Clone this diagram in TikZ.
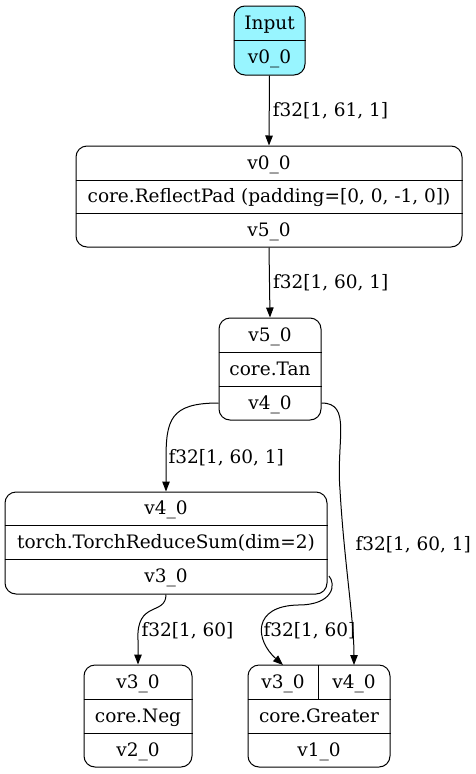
\documentclass[tikz,border=0pt]{standalone}
\usepackage{fontspec}
\setmainfont{DejaVu Serif}
\usetikzlibrary{arrows.meta}
\definecolor{inputcyan}{RGB}{152,245,255}
\tikzset{
  rec/.style={draw, rounded corners=11pt, inner sep=0pt},
  lbl/.style={inner sep=0pt, text height=15pt, text depth=3pt, font=\fontsize{18.5}{21}\selectfont},
  elbl/.style={lbl, anchor=west},
  arr/.style={-{Triangle[length=10pt,width=7.5pt]}}
}
\begin{document}
\begin{tikzpicture}[x=1pt,y=-1pt,line width=1pt]
    \useasboundingbox (0,0) rectangle (476,774);

    % input
    \node[rec, fill=inputcyan, minimum width=71pt, minimum height=69pt] (inp) at (269.5,40.5) {};
    \draw (inp.west |- 0,40) -- (inp.east |- 0,40);
    \node[lbl] (inpA) at (269.5,23) {Input};
    \node[lbl] (inpB) at (269.5,57.5) {v0\_0};

    % reflect pad
    \node[rec, minimum width=386pt, minimum height=101pt] (pad) at (269,196.5) {};
    \draw (pad.west |- 0,180) -- (pad.east |- 0,180);
    \draw (pad.west |- 0,213) -- (pad.east |- 0,213);
    \node[lbl] (padA) at (269,163) {v0\_0};
    \node[lbl] (padB) at (269,196.5) {core.ReflectPad (padding=[0, 0, -1, 0])};
    \node[lbl] (padC) at (269,230) {v5\_0};

    % tan
    \node[rec, minimum width=102pt, minimum height=102pt] (tan) at (270,369) {};
    \draw (tan.west |- 0,352) -- (tan.east |- 0,352);
    \draw (tan.west |- 0,386) -- (tan.east |- 0,386);
    \node[lbl] (tanA) at (270,335) {v5\_0};
    \node[lbl] (tanB) at (270,369) {core.Tan};
    \node[lbl] (tanC) at (270,403) {v4\_0};
    \coordinate (tanW) at (tan.west |- 0,403);
    \coordinate (tanE) at (tan.east |- 0,403);

    % reduce sum
    \node[rec, minimum width=322pt, minimum height=102pt] (sum) at (166,543) {};
    \draw (sum.west |- 0,525) -- (sum.east |- 0,525);
    \draw (sum.west |- 0,559) -- (sum.east |- 0,559);
    \node[lbl] (sumA) at (166,508.5) {v4\_0};
    \node[lbl] (sumB) at (166,542) {torch.TorchReduceSum(dim=2)};
    \node[lbl] (sumC) at (166,576.5) {v3\_0};
    \coordinate (sumE) at (329,576);

    % neg
    \node[rec, minimum width=108pt, minimum height=102pt] (neg) at (138,716) {};
    \draw (neg.west |- 0,699) -- (neg.east |- 0,699);
    \draw (neg.west |- 0,733) -- (neg.east |- 0,733);
    \node[lbl] (negA) at (138,682) {v3\_0};
    \node[lbl] (negB) at (138,716) {core.Neg};
    \node[lbl] (negC) at (138,750) {v2\_0};

    % greater
    \node[rec, minimum width=142pt, minimum height=102pt] (gt) at (319,716) {};
    \draw (gt.west |- 0,699) -- (gt.east |- 0,699);
    \draw (gt.west |- 0,733) -- (gt.east |- 0,733);
    \draw (318,665) -- (318,699);
    \node[lbl] (gtA) at (283,682) {v3\_0};
    \node[lbl] (gtB) at (354,682) {v4\_0};
    \node[lbl] (gtC) at (319,716) {core.Greater};
    \node[lbl] (gtD) at (319,750) {v1\_0};
    \coordinate (gtAin) at (283,665);
    \coordinate (gtBin) at (354,665);

    % edges
    \draw[arr] (inp.south) -- (pad.north) node[elbl, pos=.5, xshift=3pt] (e1) {f32[1, 61, 1]};
    \draw[arr] (pad.south) -- (tan.north) node[elbl, pos=.5, xshift=3pt] (e2) {f32[1, 60, 1]};
    \draw[arr] (tanW) .. controls (170,403) and (166,420) .. (166,460) -- (sum.north);
    \node[elbl] (e3) at (168,457) {f32[1, 60, 1]};
    \draw[arr] (tanE) .. controls (352,403) and (336,440) .. (340,490) .. controls (344,560) and (354,620) .. (gtBin);
    \node[elbl] (e4) at (355,544) {f32[1, 60, 1]};
    \draw[arr] (sum.south) .. controls (166,616) and (136,600) .. (138,640) -- (neg.north);
    \node[elbl] (e5) at (141,630) {f32[1, 60]};
    \draw[arr] (sumE) .. controls (336,584) and (334,605) .. (298,605) .. controls (252,606) and (255,640) .. (gtAin);
    \node[elbl] (e6) at (263,630) {f32[1, 60]};
\end{tikzpicture}
\end{document}
